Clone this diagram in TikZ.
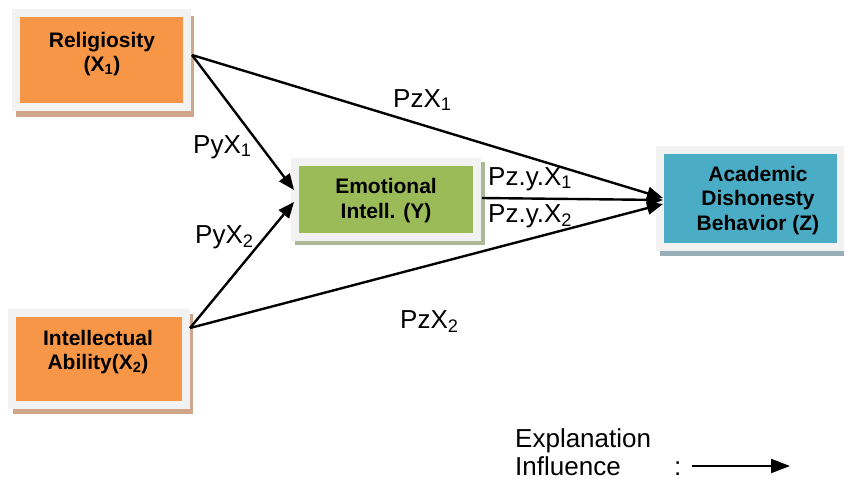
\documentclass[tikz,border=0pt]{standalone}
\usepackage{fontspec}
\setmainfont{Liberation Sans}
\usetikzlibrary{arrows.meta}
\definecolor{boxorange}{HTML}{F79646}
\definecolor{boxgreen}{HTML}{9BBB59}
\definecolor{boxblue}{HTML}{4BACC6}
\definecolor{framegray}{HTML}{F2F2F2}
\definecolor{shadowtan}{HTML}{CFA689}
\definecolor{shadowgreen}{HTML}{ADB897}
\definecolor{shadowblue}{HTML}{96AFB8}
\begin{document}
\begin{tikzpicture}[x=1pt,y=-1pt,
  frame/.style={draw=framegray, line width=8pt, inner sep=0pt, rectangle},
  shadowbox/.style={draw=white, line width=1pt},
  boxtext/.style={font=\fontsize{21}{24.5}\selectfont\bfseries, align=center, inner sep=0pt},
  lbl/.style={font=\fontsize{26}{29}\selectfont, inner sep=0pt, anchor=base west},
  conn/.style={line width=2.4pt, -{Triangle[length=16pt,width=13pt]}},
  legendarrow/.style={line width=2.2pt, -{Triangle[length=19pt,width=14pt]}}]
\useasboundingbox (0,0) rectangle (844,479);
\fill[white] (0,0) rectangle (844,479);

% shadows
\fill[shadowtan, shadowbox] (15,15) rectangle (194,117);
\fill[shadowtan, shadowbox] (12,313) rectangle (193,414);
\fill[shadowgreen, shadowbox] (294,161) rectangle (485,245);
\fill[shadowblue, shadowbox] (659,150) rectangle (847,256);

% boxes
\node[frame, fill=boxorange, minimum width=171pt, minimum height=94pt] (rel) at (101.5,60) {};
\node[frame, fill=boxorange, minimum width=174pt, minimum height=92pt] (int) at (98.5,359) {};
\node[frame, fill=boxgreen, minimum width=182pt, minimum height=75pt] (emo) at (386,199) {};
\node[frame, fill=boxblue, minimum width=181pt, minimum height=97pt] (aca) at (750.5,198) {};

% box texts
\node[boxtext] (relt) at (102,54) {Religiosity\\(X\textsubscript{1})};
\node[boxtext] (intt) at (98,352) {Intellectual\\Ability(X\textsubscript{2})};
\node[boxtext] (emot) at (386,200.5) {Emotional\\Intell. (Y)};
\node[boxtext] (acat) at (758,200.5) {Academic\\Dishonesty\\Behavior (Z)};

% connector endpoints
\coordinate (relOut) at (192,55);
\coordinate (intOut) at (190,328);
\coordinate (emoInA) at (294,190);
\coordinate (emoInB) at (294,202);
\coordinate (emoOut) at (482,198);
\coordinate (acaInA) at (663,198);
\coordinate (acaInB) at (663,200);
\coordinate (acaInC) at (663,204);

\draw[conn] (relOut) -- (emoInA);
\draw[conn] (intOut) -- (emoInB);
\draw[conn] (relOut) -- (acaInA);
\draw[conn] (intOut) -- (acaInC);
\draw[conn] (emoOut) -- (acaInB);

% labels
\node[lbl] (l1) at (393,107) {PzX\textsubscript{1}};
\node[lbl] (l2) at (193,153) {PyX\textsubscript{1}};
\node[lbl] (l3) at (195,243) {PyX\textsubscript{2}};
\node[lbl] (l4) at (400,328) {PzX\textsubscript{2}};
\node[lbl] (l5) at (488,185) {Pz.y.X\textsubscript{1}};
\node[lbl] (l6) at (488,222) {Pz.y.X\textsubscript{2}};

% legend
\node[lbl] (exp) at (515,447) {Explanation};
\node[lbl] (inf) at (515,475) {Influence};
\node[lbl] (col) at (674,475) {:};
\coordinate (legA) at (692,466);
\coordinate (legB) at (790,466);
\draw[legendarrow] (legA) -- (legB);
\end{tikzpicture}
\end{document}
